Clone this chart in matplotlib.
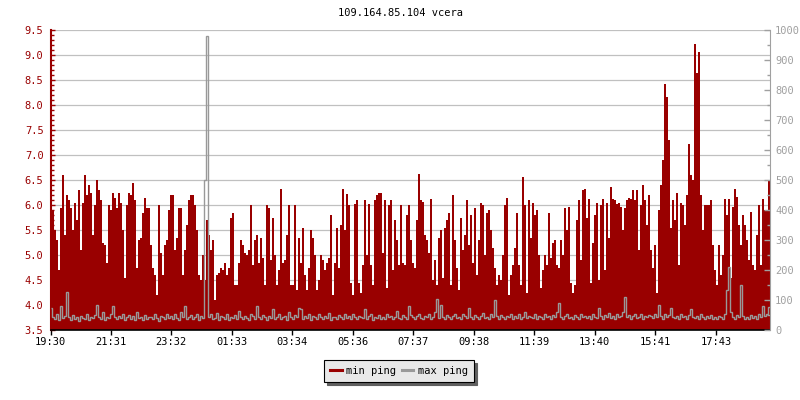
import numpy as np
import matplotlib.pyplot as plt
from matplotlib.lines import Line2D
from matplotlib.ticker import MultipleLocator, FormatStrFormatter

plt.rcParams['font.family'] = 'DejaVu Sans Mono'
plt.rcParams['font.size'] = 7.5

title = '109.164.85.104 vcera'
start_label = '19:30'
tick_labels = ['19:30', '21:31', '23:32', '01:33', '03:34', '05:36',
               '07:37', '09:38', '11:39', '13:40', '15:41', '17:43']
step_min = 4  # one sample every 4 minutes

# min ping (left axis)
min_ping = [
    6.4, 5.9, 5.5, 5.3, 4.7, 5.95, 6.6, 5.4, 6.2, 6.1,
    5.95, 5.5, 6.05, 5.7, 6.3, 5.1, 6.05, 6.6, 6.2, 6.4,
    6.25, 5.4, 6.0, 6.5, 6.3, 6.1, 5.25, 5.2, 4.85, 6.0,
    5.9, 6.25, 6.15, 5.95, 6.25, 6.05, 5.5, 4.55, 6.0, 6.25,
    6.2, 6.45, 6.1, 4.75, 5.3, 5.35, 5.85, 6.15, 5.95, 5.95,
    5.2, 4.75, 4.6, 4.2, 6.0, 5.05, 4.6, 5.2, 5.3, 5.9,
    6.2, 6.2, 5.1, 5.35, 5.95, 5.95, 4.6, 5.1, 5.6, 6.1,
    6.2, 6.2, 6.0, 5.5, 4.6, 4.5, 5.0, 4.5, 5.7, 5.4,
    5.1, 5.3, 4.1, 4.6, 4.65, 4.75, 4.7, 4.85, 4.6, 4.75,
    5.75, 5.85, 4.4, 4.4, 4.85, 5.3, 5.2, 5.05, 5.0, 5.1,
    6.0, 4.8, 5.3, 5.4, 4.85, 5.35, 4.95, 4.4, 6.0, 5.95,
    4.9, 5.75, 5.0, 4.4, 4.7, 6.33, 4.85, 4.9, 5.4, 6.0,
    4.4, 4.4, 6.0, 4.3, 5.35, 4.85, 5.55, 4.6, 4.3, 4.75,
    5.5, 5.35, 5.0, 4.3, 4.5, 5.0, 4.9, 4.7, 4.85, 4.95,
    5.8, 4.2, 4.85, 5.55, 4.75, 5.6, 6.33, 5.5, 6.23, 6.0,
    4.45, 4.2, 6.03, 6.1, 4.45, 4.25, 4.8, 6.1, 5.0, 6.03,
    4.8, 4.4, 6.1, 6.2, 6.25, 6.25, 5.05, 6.1, 4.35, 6.0,
    6.1, 4.7, 5.7, 5.3, 4.8, 6.0, 4.85, 4.8, 5.8, 6.0,
    5.3, 4.85, 4.75, 5.7, 6.63, 6.1, 6.07, 5.4, 5.3, 5.05,
    6.13, 4.5, 4.9, 4.4, 5.35, 5.5, 4.55, 5.55, 5.7, 5.85,
    4.4, 6.2, 5.3, 4.75, 4.3, 5.75, 5.1, 5.4, 6.1, 5.2,
    5.8, 4.85, 5.95, 4.6, 5.3, 6.05, 6.0, 5.0, 5.85, 5.9,
    5.5, 5.15, 4.75, 4.4, 4.6, 4.5, 5.0, 6.0, 6.15, 4.2,
    4.6, 4.8, 5.15, 5.85, 4.8, 4.4, 6.57, 6.0, 4.25, 6.1,
    5.35, 6.05, 5.8, 5.9, 5.0, 4.35, 4.7, 5.0, 4.8, 5.85,
    4.95, 5.25, 5.3, 4.8, 4.75, 5.3, 5.0, 5.95, 5.5, 5.97,
    4.45, 4.25, 4.4, 5.7, 6.1, 4.9, 6.3, 6.33, 5.75, 6.13,
    4.45, 5.25, 5.8, 6.05, 4.5, 6.0, 6.13, 4.7, 6.05, 5.35,
    6.37, 6.13, 6.1, 6.03, 6.05, 5.97, 5.5, 5.95, 6.1, 6.15,
    6.13, 6.3, 6.1, 6.3, 5.1, 6.0, 6.4, 6.1, 5.6, 6.2,
    5.1, 4.75, 5.2, 4.25, 5.9, 6.4, 6.9, 8.43, 8.17, 7.3,
    5.55, 6.1, 5.7, 6.25, 4.8, 6.05, 6.0, 5.6, 6.2, 7.22,
    6.6, 6.5, 9.22, 8.65, 9.07, 6.2, 5.5, 6.0, 6.0, 6.0,
    6.1, 5.2, 4.7, 4.4, 5.2, 4.6, 5.0, 6.13, 5.8, 6.13,
    4.55, 5.97, 6.33, 6.17, 5.6, 5.2, 5.8, 5.6, 5.3, 4.9,
    5.87, 4.8, 4.7, 5.4, 6.0, 4.8, 6.13, 5.9, 5.9, 6.5,
]

# max ping (right axis)
max_ping = [
    75, 45, 38, 52, 35, 80, 40, 48, 128, 42, 35, 50, 38, 44, 30, 47, 40, 36, 55, 33,
    45, 39, 50, 85, 42, 38, 60, 35, 44, 40, 52, 80, 45, 36, 48, 40, 55, 33, 42, 50,
    38, 46, 35, 60, 40, 44, 32, 50, 38, 45, 42, 36, 55, 40, 30, 48, 44, 38, 52, 41,
    46, 38, 52, 40, 35, 60, 44, 80, 38, 45, 50, 36, 42, 55, 34, 48, 40, 500, 980, 44,
    52, 36, 40, 58, 35, 46, 42, 38, 55, 32, 45, 40, 50, 36, 62, 44, 38, 48, 41, 35,
    52, 46, 38, 80, 42, 36, 50, 44, 33, 47, 40, 70, 38, 45, 52, 36, 42, 48, 35, 60,
    44, 38, 50, 42, 75, 70, 36, 48, 40, 55, 34, 46, 42, 38, 52, 44, 36, 48, 40, 58,
    35, 45, 42, 38, 50, 44, 36, 52, 40, 47, 38, 55, 42, 36, 48, 44, 40, 70, 38, 46,
    52, 35, 44, 40, 50, 38, 45, 36, 55, 42, 48, 38, 44, 62, 40, 36, 50, 44, 38, 80,
    50, 42, 38, 46, 55, 40, 36, 48, 44, 52, 38, 45, 60, 105, 40, 85, 44, 38, 50, 42,
    36, 48, 55, 40, 44, 38, 52, 46, 40, 75, 42, 36, 50, 44, 38, 48, 56, 40, 45, 38,
    52, 42, 100, 46, 38, 50, 44, 36, 48, 42, 55, 38, 46, 40, 52, 36, 44, 60, 40, 48,
    45, 40, 52, 38, 48, 44, 36, 55, 42, 46, 38, 50, 44, 60, 90, 42, 38, 48, 52, 40,
    45, 36, 50, 44, 38, 55, 42, 48, 40, 46, 36, 52, 44, 40, 75, 48, 38, 50, 42, 56,
    40, 46, 38, 52, 44, 48, 60, 110, 42, 50, 38, 46, 55, 40, 44, 52, 38, 48, 42, 50,
    46, 40, 52, 44, 85, 48, 38, 55, 42, 50, 75, 44, 40, 48, 36, 52, 42, 46, 38, 50,
    70, 44, 40, 48, 38, 52, 42, 36, 46, 40, 50, 38, 44, 36, 48, 42, 38, 55, 135, 210,
    60, 44, 38, 50, 42, 150, 46, 38, 44, 36, 50, 40, 46, 38, 52, 44, 80, 48, 55, 78,
]


def minutes_from_start(label):
    h, m = map(int, label.split(':'))
    h0, m0 = map(int, start_label.split(':'))
    return (h * 60 + m - (h0 * 60 + m0)) % 1440


edges = np.arange(len(min_ping) + 1) * step_min

red = '#990000'
grey = '#999999'

fig = plt.figure(figsize=(8, 4), dpi=100)
ax = fig.add_axes([50.5 / 800, 70 / 400, 719 / 800, 300 / 400])
ax.stairs(min_ping, edges, baseline=3.5, fill=True, color=red, linewidth=0)
ax.set_xlim(0, edges[-1])
ax.set_ylim(3.5, 9.5)
ax.set_axisbelow(True)
ax.yaxis.set_major_locator(MultipleLocator(0.5))
ax.yaxis.set_minor_locator(MultipleLocator(0.1))
ax.yaxis.set_major_formatter(FormatStrFormatter('%.1f'))
ax.grid(axis='y', color='#c0c0c0', linewidth=0.9)
ax.set_xticks([minutes_from_start(t) for t in tick_labels])
ax.set_xticklabels(tick_labels)

ax.tick_params(axis='y', which='both', direction='in', colors=red, width=1, pad=5)
ax.tick_params(axis='y', which='major', length=3.2)
ax.tick_params(axis='y', which='minor', length=2.4)
ax.tick_params(axis='x', direction='out', length=3.5, width=1, pad=1.5, colors='black')
ax.spines['left'].set_color(red)
ax.spines['left'].set_linewidth(1.5)
ax.spines['bottom'].set_color('black')
ax.spines['bottom'].set_linewidth(1.2)
ax.spines['top'].set_visible(False)
ax.spines['right'].set_visible(False)

ax2 = ax.twinx()
ax2.stairs(max_ping, edges, baseline=None, color=grey, linewidth=1.0)
ax2.set_ylim(0, 1000)
ax2.yaxis.set_major_locator(MultipleLocator(100))
ax2.yaxis.set_minor_locator(MultipleLocator(50))
ax2.tick_params(axis='y', which='both', direction='in', colors='#a0a0a0', width=1, pad=4)
ax2.tick_params(axis='y', which='major', length=4)
ax2.tick_params(axis='y', which='minor', length=2.4)
for side in ['left', 'top', 'bottom']:
    ax2.spines[side].set_visible(False)
ax2.spines['right'].set_color('#a0a0a0')
ax2.spines['right'].set_linewidth(0.8)

fig.text(0.5, 1 - 13 / 400, title, ha='center', va='center', color='black')

handles = [Line2D([], [], color=red, linewidth=2.2),
           Line2D([], [], color=grey, linewidth=2.2)]
leg = fig.legend(handles, ['min ping', 'max ping'], loc='center',
                 bbox_to_anchor=(0.4985, 0.0725), ncol=2, fancybox=False,
                 shadow={'ox': 2.3, 'oy': -2.3, 'facecolor': '#606060',
                         'edgecolor': '#606060', 'alpha': 1},
                 handlelength=1.1, handletextpad=0.4, columnspacing=0.6,
                 borderpad=0.6, facecolor='#e8e8e8', edgecolor='black',
                 framealpha=1)
leg.get_frame().set_linewidth(0.8)

fig.savefig('out.png', dpi=100)
